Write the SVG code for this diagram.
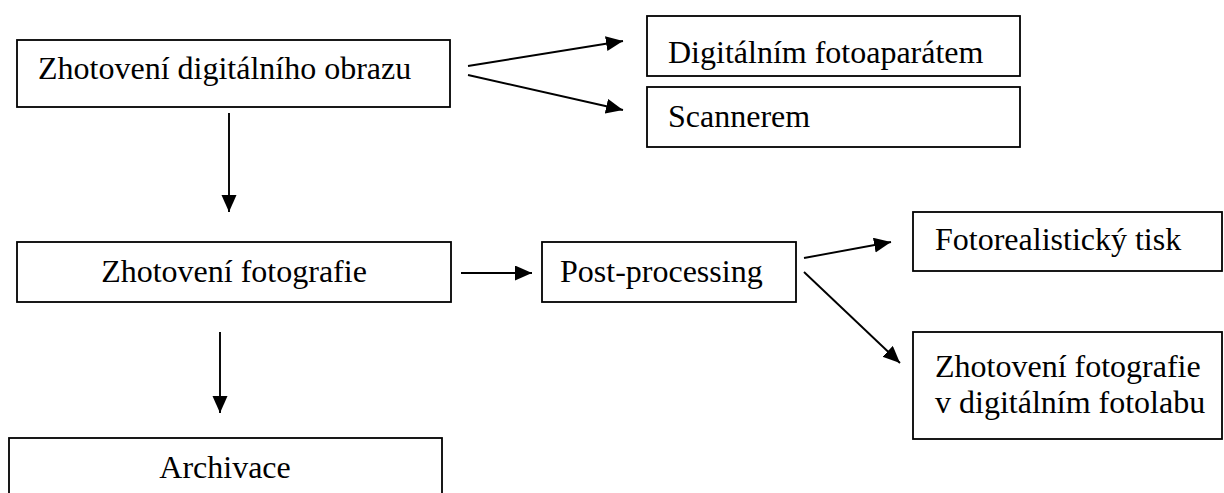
<svg xmlns="http://www.w3.org/2000/svg" width="1224" height="493" viewBox="0 0 1224 493">
<style>
.box{fill:#fff;stroke:#000;stroke-width:1.8}
.lbl{font-family:"Liberation Serif","Times New Roman",serif;font-size:32px;fill:#000}
.mid{text-anchor:middle}
.conn{stroke:#000;stroke-width:1.9;fill:none;marker-end:url(#ah)}
</style>
<defs>
<marker id="ah" markerUnits="userSpaceOnUse" markerWidth="18" markerHeight="16" refX="17" refY="7.5" orient="auto">
<path d="M0,0 L17,7.5 L0,15 z" fill="#000"/>
</marker>
</defs>
<rect width="1224" height="493" fill="#fff"/>
<g id="connectors">
<line class="conn" x1="468" y1="66" x2="623" y2="41"/>
<line class="conn" x1="468" y1="75" x2="623" y2="110"/>
<line class="conn" x1="229" y1="113" x2="229" y2="212"/>
<line class="conn" x1="461" y1="273" x2="532" y2="273"/>
<line class="conn" x1="220" y1="332" x2="220" y2="413"/>
<line class="conn" x1="804" y1="258" x2="891" y2="242"/>
<line class="conn" x1="804" y1="272" x2="900" y2="363"/>
</g>
<g id="node-digitalni-obraz">
<rect class="box" x="17" y="40" width="433" height="67"/>
<text class="lbl" x="38" y="79">Zhotovení digitálního obrazu</text>
</g>
<g id="node-fotoaparat">
<rect class="box" x="647" y="16" width="373" height="60"/>
<text class="lbl" x="668" y="63">Digitálním fotoaparátem</text>
</g>
<g id="node-scanner">
<rect class="box" x="647" y="87" width="373" height="60"/>
<text class="lbl" x="668" y="127">Scannerem</text>
</g>
<g id="node-fotografie">
<rect class="box" x="17" y="242" width="434" height="60"/>
<text class="lbl mid" x="234" y="282">Zhotovení fotografie</text>
</g>
<g id="node-post">
<rect class="box" x="542" y="242" width="254" height="60"/>
<text class="lbl" x="560" y="282">Post-processing</text>
</g>
<g id="node-tisk">
<rect class="box" x="913" y="212" width="309" height="59"/>
<text class="lbl" x="935" y="250">Fotorealistický tisk</text>
</g>
<g id="node-fotolab">
<rect class="box" x="913" y="332" width="309" height="107"/>
<text class="lbl" x="935" y="377">Zhotovení fotografie</text>
<text class="lbl" x="935" y="413">v digitálním fotolabu</text>
</g>
<g id="node-archivace">
<rect class="box" x="9" y="438" width="433" height="70"/>
<text class="lbl mid" x="225" y="478">Archivace</text>
</g>
</svg>
